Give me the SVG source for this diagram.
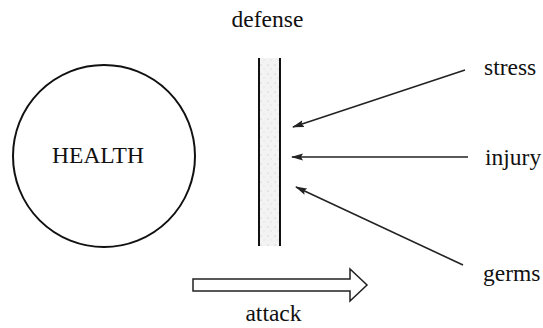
<svg xmlns="http://www.w3.org/2000/svg" width="543" height="328" viewBox="0 0 543 328">
<style>
text{font-family:'Liberation Serif','Times New Roman',serif;font-size:23.5px;fill:#111}
.ln{stroke:#222;stroke-width:1.6;fill:none}
</style>
<defs>
<marker id="ah" viewBox="0 0 12 8" refX="11" refY="4" markerWidth="12" markerHeight="8" orient="auto" markerUnits="userSpaceOnUse">
<path d="M0,0.5 L12,4 L0,7.5 L2,4 Z" fill="#222"/>
</marker>
<pattern id="dots" width="7" height="9" patternUnits="userSpaceOnUse">
<rect width="7" height="9" fill="#f3f3f3"/>
<circle cx="2" cy="2" r="0.6" fill="#bbb"/>
<circle cx="5" cy="6" r="0.5" fill="#ccc"/>
</pattern>
</defs>
<rect width="543" height="328" fill="#fff"/>
<g id="health">
<circle cx="104" cy="156" r="91" fill="none" stroke="#111" stroke-width="2"/>
<text x="98" y="163" text-anchor="middle">HEALTH</text>
</g>
<g id="defense">
<rect x="259" y="58" width="21" height="188" fill="url(#dots)"/>
<line x1="259" y1="58" x2="259" y2="246" stroke="#111" stroke-width="2"/>
<line x1="280" y1="58" x2="280" y2="246" stroke="#111" stroke-width="2"/>
<text x="267.5" y="27" text-anchor="middle">defense</text>
</g>
<g id="stress"><text x="484" y="75">stress</text></g>
<g id="injury"><text x="485" y="165">injury</text></g>
<g id="germs"><text x="483" y="281">germs</text></g>
<g id="attack">
<path d="M193,279 L350,279 L350,269 L367,285 L350,301 L350,291 L193,291 Z" fill="#fff" stroke="#222" stroke-width="1.5"/>
<text x="273.5" y="321" text-anchor="middle">attack</text>
</g>
<g id="connectors">
<line class="ln" x1="465" y1="70" x2="293" y2="127" marker-end="url(#ah)"/>
<line class="ln" x1="468" y1="157" x2="292" y2="157" marker-end="url(#ah)"/>
<line class="ln" x1="463" y1="265" x2="296" y2="187" marker-end="url(#ah)"/>
</g>
</svg>
